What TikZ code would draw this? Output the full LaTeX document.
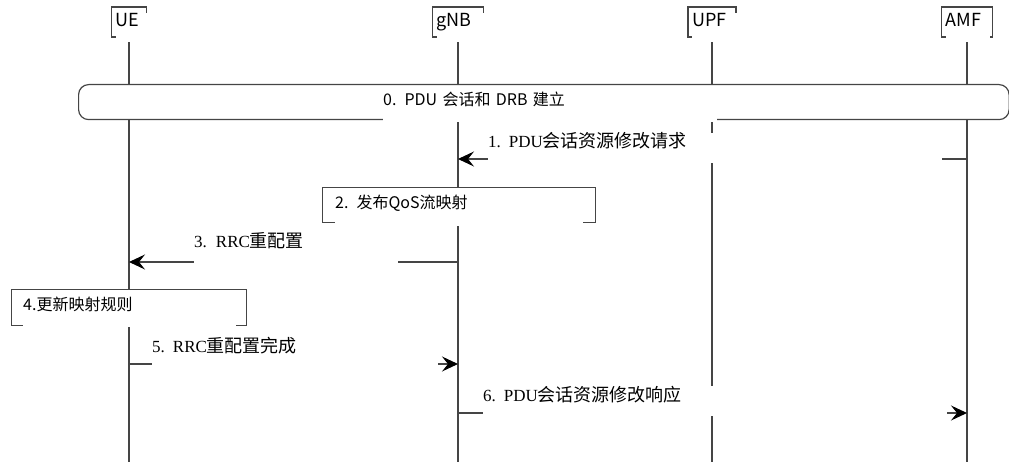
\documentclass[tikz,border=0pt]{standalone}
\usepackage{fontspec}
\setmainfont{Noto Sans CJK SC}
\newfontfamily\msgcjk{Noto Sans CJK SC}
\newfontfamily\msglat{Liberation Serif}
\usepackage{tikz}
\usetikzlibrary{arrows.meta, positioning, calc}
\definecolor{mLine}{HTML}{454545}
\newcommand{\msgnum}[1]{{\fontsize{17}{19}\selectfont\msglat #1}}

\begin{document}
\begin{tikzpicture}[x=1pt, y=-1pt,
    hdr/.style={draw=mLine, line width=1.1pt, minimum height=30, inner sep=0},
    hdrtxt/.style={fill=white, inner sep=0, anchor=base west, align=left, text height=14pt, text depth=15pt, font=\fontsize{18}{20}\selectfont},
    life/.style={draw=mLine, line width=1.1pt},
    frame/.style={draw=mLine, line width=1.2pt, fill=white, inner sep=0, anchor=north west},
    frametxt/.style={fill=white, inner sep=0, anchor=base west, align=left, font=\fontsize{16}{18}\selectfont},
    msg/.style={draw=mLine, line width=1.1pt, -{Stealth[length=16pt, width=15pt, inset=6pt, black]}},
    msgtxt/.style={fill=white, inner sep=0, anchor=base west, align=left, text height=15pt, text depth=15pt, font=\fontsize{18}{20}\selectfont\msgcjk}]
    \useasboundingbox (0,0) rectangle (1009,462);
    \coordinate (bottom) at (0,462);
    \coordinate (r1) at (0,159);
    \coordinate (r3) at (0,262);
    \coordinate (r5) at (0,364);
    \coordinate (r6) at (0,413);
    \foreach \nm/\lbl/\xx/\ww/\tw in {ue/UE/129/35/34, gnb/gNB/458/51/50, upf/UPF/712/48/50, amf/AMF/967/51/44} {
      \node[hdr, minimum width=\ww] (\nm) at (\xx,22) {};
      \draw[life] (\nm) -- (\nm |- bottom);
      \node[hdrtxt, text width=\tw pt] (\nm txt) at ({\xx-\ww/2+4},27) {\lbl};
    }
    \node[frame, rounded corners=10pt, minimum width=930.5, minimum height=35] (f0) at (78,84) {};
    \node[frametxt, text width=334pt, text height=15pt, text depth=16pt] (f0txt) at (383,106) {0. PDU 会话和 DRB 建立};
    \node[frame, minimum width=273, minimum height=35] (f2) at (322,187) {};
    \node[frametxt, text width=248pt, text height=16pt, text depth=17pt] (f2txt) at (335,209) {2. 发布QoS流映射};
    \node[frame, minimum width=235, minimum height=36] (f4) at (11,289) {};
    \node[frametxt, text width=213pt, text height=17pt, text depth=17pt] (f4txt) at (23,310) {4.更新映射规则};
    \draw[msg] (amf |- r1) -- (gnb |- r1);
    \draw[msg] (gnb |- r3) -- (ue |- r3);
    \draw[msg] (ue |- r5) -- (gnb |- r5);
    \draw[msg] (gnb |- r6) -- (amf |- r6);
    \node[msgtxt, text width=454pt] (m1txt) at (488,148) {\msgnum{1.\hspace{8pt}PDU}会话资源修改请求};
    \node[msgtxt, text width=204pt, text depth=16pt] (m3txt) at (194,248) {\msgnum{3. RRC}重配置};
    \node[msgtxt, text width=286pt] (m5txt) at (152,352) {\msgnum{5.\hspace{8pt}RRC}重配置完成};
    \node[msgtxt, text width=464pt] (m6txt) at (483,401) {\msgnum{6.\hspace{8pt}PDU}会话资源修改响应};
\end{tikzpicture}
\end{document}
